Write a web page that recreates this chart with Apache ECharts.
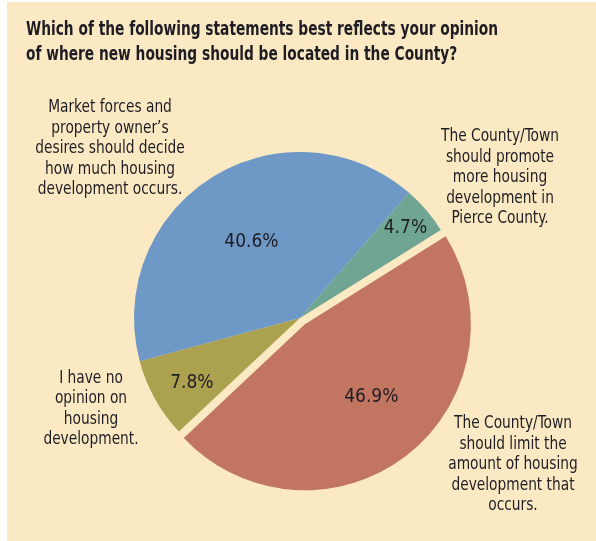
<!DOCTYPE html>
<html><head><meta charset="utf-8">
<script src="https://cdn.jsdelivr.net/npm/echarts@6/dist/echarts.min.js"></script>
<style>html,body{margin:0;padding:0;background:#fff}#c{width:596px;height:541px}</style>
</head><body><div id="c"></div>
<script>
const titleLines = [
  'Which of the following statements best reflects your opinion',
  'of where new housing should be located in the County?'
];
const categories = [
  'The County/Town\nshould limit the\namount of housing\ndevelopment that\noccurs.',
  'I have no\nopinion on\nhousing\ndevelopment.',
  'Market forces and\nproperty owner\u2019s\ndesires should decide\nhow much housing\ndevelopment occurs.',
  'The County/Town\nshould promote\nmore housing\ndevelopment in\nPierce County.'
];
const values = [46.9, 7.8, 40.6, 4.7];

// styling / layout (not data)
const colors = ['#C27661', '#ACA14F', '#6E98C6', '#6FA592'];
const labelShift = [[14, 5], [-33, 23], [-3, -3], [40, -34]];
const descPos = [[513, 465], [91, 409], [110, 149], [500, 178]];
const FONT = '"DejaVu Sans Condensed","Liberation Sans Narrow",sans-serif';
const TXT = '#1f1d24';

const chart = echarts.init(document.getElementById('c'), null, {renderer: 'canvas'});

const graphics = [
  {type: 'rect', silent: true, z: -10, shape: {x: 7, y: 2, width: 589, height: 539}, style: {fill: '#FAE9C3'}},
  {type: 'text', silent: true, x: 26, y: 30, scaleX: 0.805, style: {
    text: titleLines[0], x: 0, y: 0, textVerticalAlign: 'middle', font: 'bold 19px ' + FONT, fill: TXT}},
  {type: 'text', silent: true, x: 26, y: 55, scaleX: 0.805, style: {
    text: titleLines[1], x: 0, y: 0, textVerticalAlign: 'middle', font: 'bold 19px ' + FONT, fill: TXT}}
];
categories.forEach((c, i) => {
  graphics.push({type: 'text', silent: true, x: descPos[i][0], y: descPos[i][1], scaleX: 0.9, style: {
    text: c, x: 0, y: 0, textAlign: 'center', textVerticalAlign: 'middle',
    font: '17px ' + FONT, fill: TXT, lineHeight: 20.5
  }});
});

chart.setOption({
  animation: false,
  backgroundColor: '#ffffff',
  graphic: graphics,
  series: [{
    type: 'pie',
    center: [300, 318],
    radius: 166,
    startAngle: 32,
    clockwise: true,
    selectedMode: 'single',
    selectedOffset: 8,
    emphasis: {disabled: true},
    itemStyle: {borderWidth: 0},
    label: {
      show: true, position: 'inside', formatter: p => p.value.toFixed(1) + '%',
      fontSize: 19, fontFamily: FONT, color: TXT
    },
    labelLine: {show: false},
    labelLayout: p => ({dx: labelShift[p.dataIndex][0], dy: labelShift[p.dataIndex][1]}),
    data: values.map((v, i) => ({
      value: v, name: categories[i], selected: i === 0,
      itemStyle: {color: colors[i]}
    }))
  }]
});
</script></body></html>
